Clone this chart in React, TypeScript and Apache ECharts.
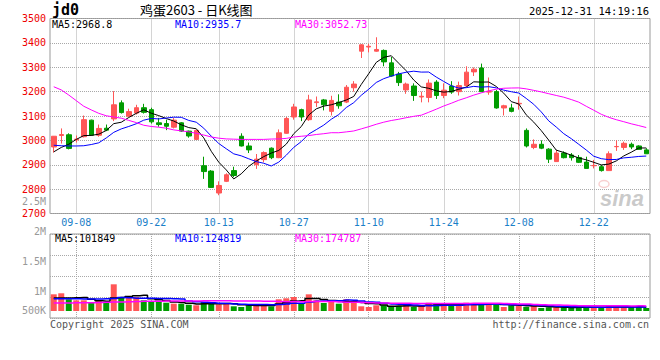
import React, { useEffect, useRef } from "react";
import * as echarts from "echarts";

const dates = [
  "09-03","09-04","09-05","09-08","09-09","09-10","09-11","09-12","09-15","09-16",
  "09-17","09-18","09-19","09-22","09-23","09-24","09-25","09-26","09-29","09-30",
  "10-09","10-10","10-13","10-14","10-15","10-16","10-17","10-20","10-21","10-22",
  "10-23","10-24","10-27","10-28","10-29","10-30","10-31","11-03","11-04","11-05",
  "11-06","11-07","11-10","11-11","11-12","11-13","11-14","11-17","11-18","11-19",
  "11-20","11-21","11-24","11-25","11-26","11-27","11-28","12-01","12-02","12-03",
  "12-04","12-05","12-08","12-09","12-10","12-11","12-12","12-15","12-16","12-17",
  "12-18","12-19","12-22","12-23","12-24","12-25","12-26","12-29","12-30","12-31",
];
const tickDates = ["09-08", "09-22", "10-13", "10-27", "11-10", "11-24", "12-08", "12-22"];

const opens = [
  2973,3020,3023,3002,3015,3083,3021,3050,3088,3154,
  3099,3112,3134,3126,3072,3069,3054,3072,3038,3004,
  2896,2874,2784,2832,2876,3017,2977,2900,2921,2968,
  2929,3029,3096,3126,3085,3155,3166,3119,3157,3157,
  3216,3366,3383,3366,3369,3318,3272,3207,3223,3178,
  3176,3239,3184,3223,3200,3225,3281,3297,3198,3200,
  3133,3133,3150,3041,2971,2984,2964,2913,2948,2940,
  2930,2911,2896,2892,2876,2974,2971,2984,2977,2961,
];
const closes = [
  3017,3024,2967,3005,3085,3021,3049,3042,3146,3114,
  3118,3134,3115,3076,3065,3058,3083,3038,3018,3041,
  2872,2807,2815,2859,2856,2977,2961,2923,2950,2929,
  3031,3090,3137,3096,3166,3158,3146,3164,3142,3218,
  3231,3392,3386,3373,3322,3264,3237,3231,3184,3181,
  3235,3184,3206,3198,3225,3280,3292,3200,3201,3133,
  3142,3119,3152,2977,2984,2968,2923,2948,2929,2929,
  2910,2885,2897,2876,2945,2975,2988,2973,2963,2945,
];
const lows = [
  2950,2987,2963,2991,3012,3019,3015,3038,3079,3110,
  3096,3106,3110,3069,3056,3042,3049,3035,3011,3002,
  2842,2805,2775,2829,2849,2975,2948,2883,2910,2923,
  2927,3027,3085,3079,3080,3137,3123,3102,3130,3153,
  3200,3338,3361,3364,3304,3261,3223,3191,3162,3156,
  3156,3170,3173,3191,3184,3220,3264,3198,3187,3130,
  3102,3115,3126,2971,2964,2964,2907,2913,2926,2917,
  2907,2885,2885,2872,2876,2957,2961,2964,2961,2944,
];
const highs = [
  3018,3049,3029,3020,3102,3085,3065,3065,3202,3164,
  3130,3146,3150,3134,3092,3085,3092,3075,3040,3043,
  2933,2878,2832,2865,2892,3029,2991,2944,2955,2971,
  3045,3096,3150,3130,3187,3180,3170,3183,3189,3227,
  3243,3395,3396,3423,3373,3342,3281,3237,3234,3200,
  3250,3247,3234,3243,3241,3304,3299,3315,3258,3207,
  3146,3150,3180,3049,3004,3000,2968,2961,2955,2948,
  2940,2933,2920,2899,2955,3000,2995,2991,2980,2968,
];
const volumes = [
  459000,487000,322000,294000,294000,220000,283000,248000,734000,385000,
  358000,385000,294000,275000,248000,228000,201000,201000,173000,157000,
  248000,228000,184000,201000,129000,110000,157000,173000,173000,129000,
  322000,349000,385000,220000,459000,294000,220000,248000,201000,322000,
  267000,129000,110000,157000,157000,110000,138000,157000,110000,157000,
  228000,212000,157000,157000,157000,228000,193000,201000,201000,173000,
  110000,157000,157000,110000,138000,83000,102000,102000,102000,102000,
  102000,102000,102000,102000,157000,102000,102000,118000,118000,83000,
];

// moving-average values before enough history is visible
const ma5Head = [2953, 2971, 2984, 3004];
const ma10Head = [2980, 2978, 2977, 2977, 2978, 2983, 2990, 3010, 3033];
const ma30Head = [
  3220,3207,3186,3163,3140,3125,3111,3101,3096,3091,
  3082,3073,3062,3057,3054,3050,3043,3039,3035,3029,
  3022,3014,3009,3006,3005,3004,3004,3004,3004,
];
const vma5Head = [357000, 360000, 360000, 365000];
const vma10Head = [340000, 340000, 340000, 335000, 330000, 330000, 330000, 335000, 345000];
const vma30Head = [
  220000,220000,222000,224000,226000,230000,235000,240000,245000,250000,
  255000,260000,265000,268000,270000,272000,274000,276000,277000,278000,
  279000,280000,280000,280000,278000,276000,274000,272000,270000,
];

const priceTicks = { min: 2700, max: 3500, interval: 100 };
const volLabels = ["2.5M", "2M", "1.5M", "1M", "500K"];
const legendMain = ["MA5:2968.8", "MA10:2935.7", "MA30:3052.73"];
const legendVol = ["MA5:101849", "MA10:124819", "MA30:174787"];

const UP = "#ff5656";
const DOWN = "#009c00";
const MA_COLORS = ["#000000", "#0000ff", "#ff00ff"];
const MONO = "'DejaVu Sans Mono', monospace";

function movingAvg(src: number[], n: number, head: number[]) {
  return src.map((_, i) => {
    if (i < n - 1) return head[i];
    let s = 0;
    for (let j = i - n + 1; j <= i; j++) s += src[j];
    return +(s / n).toFixed(2);
  });
}

function txt(text: string, x: number, y: number, fill: string, font: string, align = "left") {
  return {
    type: "text",
    silent: true,
    z: 100,
    style: {
      text, x, y, fill, font,
      textAlign: align, align,
      textVerticalAlign: "middle", verticalAlign: "middle",
    },
  };
}

export default function App() {
  const ref = useRef<HTMLDivElement>(null);
  useEffect(() => {
    const chart = echarts.init(ref.current!, null, { renderer: "svg" });
    const candles = dates.map((_, i) => [opens[i], closes[i], lows[i], highs[i]]);
    const ma5 = movingAvg(closes, 5, ma5Head);
    const ma10 = movingAvg(closes, 10, ma10Head);
    const ma30 = movingAvg(closes, 30, ma30Head);
    const vma5 = movingAvg(volumes, 5, vma5Head);
    const vma10 = movingAvg(volumes, 10, vma10Head);
    const vma30 = movingAvg(volumes, 30, vma30Head);
    const volBars = volumes.map((v, i) => ({
      value: v,
      itemStyle: { color: closes[i] >= opens[i] ? UP : DOWN },
    }));
    const showTick = (_: number, v: string) => tickDates.includes(v);
    const dotted = { type: "dotted", color: "#a8a8a8", width: 1 };

    const graphic: any[] = [
      txt("jd0", 52, 10, "#000", `bold 15px ${MONO}`),
      txt("鸡蛋2603 - 日K线图", 140, 9, "#000", "13px 'Noto Sans CJK SC'"),
      txt("2025-12-31 14:19:16", 649, 11, "#000", `10.5px ${MONO}`, "right"),
      txt(legendMain[0], 52, 24, MA_COLORS[0], `10px ${MONO}`),
      txt(legendMain[1], 175, 24, MA_COLORS[1], `10px ${MONO}`),
      txt(legendMain[2], 295, 24, MA_COLORS[2], `10px ${MONO}`),
      txt(legendVol[0], 55, 238, MA_COLORS[0], `10px ${MONO}`),
      txt(legendVol[1], 175, 238, MA_COLORS[1], `10px ${MONO}`),
      txt(legendVol[2], 295, 238, MA_COLORS[2], `10px ${MONO}`),
      txt("Copyright 2025 SINA.COM", 50, 324, "#555", `10px ${MONO}`),
      txt("http://finance.sina.com.cn", 649, 324, "#555", `10px ${MONO}`, "right"),
      txt("sina", 622, 198, "rgba(150,150,150,0.5)", "italic bold 22px 'Liberation Sans'", "center"),
      {
        type: "ellipse", silent: true, z: 100,
        shape: { cx: 604, cy: 184, rx: 5, ry: 3.5 },
        style: { fill: "none", stroke: "rgba(235,120,120,0.35)", lineWidth: 1.5 },
      },
    ];
    volLabels.forEach((l, i) => {
      graphic.push(txt(l, 46, Math.min(201 + i * 30, 310), "#999", `10px ${MONO}`, "right"));
    });

    chart.setOption({
      animation: false,
      backgroundColor: "#fff",
      graphic,
      grid: [
        { left: 50, width: 600, top: 18.5, height: 195, show: true, borderColor: "#999", borderWidth: 1 },
        { left: 50, width: 600, top: 234, height: 84, show: true, borderColor: "#999", borderWidth: 1 },
      ],
      xAxis: [
        {
          type: "category", gridIndex: 0, data: dates, boundaryGap: true,
          axisLine: { show: false }, axisTick: { show: false },
          axisLabel: { interval: showTick, color: "#1a80c8", fontFamily: MONO, fontSize: 10, margin: 4 },
          splitLine: { show: true, interval: showTick, alignWithLabel: true, lineStyle: dotted },
        },
        {
          type: "category", gridIndex: 1, data: dates, boundaryGap: true,
          axisLine: { show: false }, axisTick: { show: false }, axisLabel: { show: false },
          splitLine: { show: true, interval: showTick, alignWithLabel: true, lineStyle: dotted },
        },
      ],
      yAxis: [
        {
          type: "value", gridIndex: 0,
          min: priceTicks.min, max: priceTicks.max, interval: priceTicks.interval,
          axisLine: { show: false }, axisTick: { show: false },
          axisLabel: {
            color: "#ee0000", fontFamily: MONO, fontSize: 10, margin: 4,
            formatter: (v: number) => String(v),
          },
          splitLine: { show: true, lineStyle: dotted },
        },
        {
          type: "value", gridIndex: 1, min: -192500, max: 2117500,
          axisLine: { show: false }, axisTick: { show: false }, axisLabel: { show: false },
          splitLine: { show: false },
        },
        {
          type: "value", gridIndex: 1, min: 0, max: 4, interval: 1,
          axisLine: { show: false }, axisTick: { show: false }, axisLabel: { show: false },
          splitLine: { show: true, lineStyle: dotted },
        },
      ],
      series: [
        {
          type: "candlestick", xAxisIndex: 0, yAxisIndex: 0, data: candles, barWidth: 5,
          itemStyle: { color: UP, color0: DOWN, borderColor: UP, borderColor0: DOWN, borderWidth: 1 },
        },
        ...[ma5, ma10, ma30].map((d, i) => ({
          type: "line", xAxisIndex: 0, yAxisIndex: 0, data: d, symbol: "none", silent: true,
          lineStyle: { color: MA_COLORS[i], width: 1 }, z: 5,
        })),
        { type: "bar", xAxisIndex: 1, yAxisIndex: 1, data: volBars, barWidth: 6 },
        ...[vma5, vma10, vma30].map((d, i) => ({
          type: "line", xAxisIndex: 1, yAxisIndex: 1, data: d, symbol: "none", silent: true, step: "middle",
          lineStyle: { color: MA_COLORS[i], width: 1.5 }, z: 5,
        })),
      ],
    });
    return () => chart.dispose();
  }, []);
  return (
    <div
      ref={ref}
      style={{ position: "fixed", left: 0, top: 0, width: 660, height: 360, background: "#fff" }}
    />
  );
}
